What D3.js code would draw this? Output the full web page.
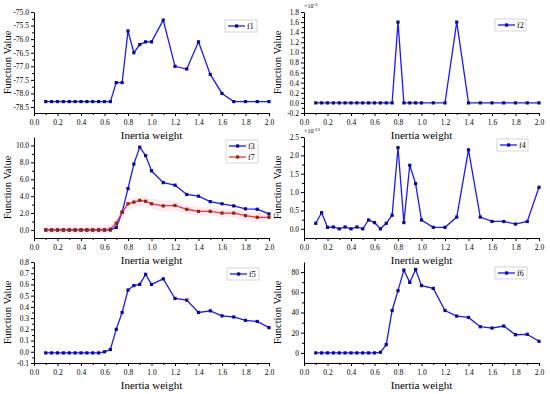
<!DOCTYPE html>
<html>
<head>
<meta charset="utf-8">
<script src="https://cdn.jsdelivr.net/npm/d3@7"></script>
<style>
  body { margin: 0; background: #fff; }
  svg { display: block; font-family: "Liberation Serif", "Times New Roman", serif; }
  .tick text { font-size: 7.5px; fill: #000; font-family: "Liberation Serif", "Times New Roman", serif; }
  .domain, .tick line { stroke: #000; }
</style>
</head>
<body>
<svg width="550" height="394"></svg>
<script>
// inertia weight values (x)
const X = [0.1, 0.15, 0.2, 0.25, 0.3, 0.35, 0.4, 0.45, 0.5, 0.55, 0.6, 0.65, 0.7, 0.75, 0.8, 0.85, 0.9, 0.95,
    1.0, 1.1, 1.2, 1.3, 1.4, 1.5, 1.6, 1.7, 1.8, 1.9, 2.0];

const F1 = [-78.3, -78.3, -78.3, -78.3, -78.3, -78.3, -78.3, -78.3, -78.3, -78.3, -78.3, -78.3,
    -77.6, -77.6, -75.7, -76.5, -76.2, -76.1, -76.1, -75.3, -77.0, -77.1, -76.1, -77.3, -78.0, -78.3, -78.3, -78.3, -78.3];
const F2 = [0, 0, 0, 0, 0, 0, 0, 0, 0, 0, 0, 0, 0, 0, 1.6, 0, 0, 0, 0, 0, 0, 1.6, 0, 0, 0, 0, 0, 0, 0];
const F3 = [0, 0, 0, 0, 0, 0, 0, 0, 0, 0, 0, 0, 0.3, 2.1, 4.9, 7.8, 9.8, 8.8,
    7.0, 5.6, 5.3, 4.2, 4.0, 3.35, 3.1, 2.85, 2.5, 2.45, 1.9];
const F7 = [0, 0, 0, 0, 0, 0, 0, 0, 0, 0, 0, 0.1, 0.8, 2.1, 3.1, 3.3, 3.5, 3.4,
    3.1, 2.85, 2.9, 2.45, 2.2, 2.2, 2.0, 2.0, 1.7, 1.5, 1.5];
const F7_HI = [0.6, 0.6, 0.6, 0.6, 0.6, 0.6, 0.6, 0.6, 0.6, 0.6, 0.6, 0.7, 1.4, 2.6, 3.7, 3.8, 3.9, 3.9,
    3.7, 3.5, 3.5, 2.9, 2.7, 2.7, 2.5, 2.5, 2.2, 2.0, 2.0];
const F7_LO = [-0.5, -0.5, -0.5, -0.5, -0.5, -0.5, -0.5, -0.5, -0.5, -0.5, -0.5, -0.4, 0.2, 1.2, 2.3, 2.6, 2.8, 2.8,
    2.5, 2.2, 2.3, 1.9, 1.7, 1.7, 1.5, 1.5, 1.1, 0.9, 0.9];
const F4 = [0.15, 0.44, 0.04, 0.05, 0.0, 0.05, 0.0, 0.05, 0.0, 0.24, 0.17, 0.0, 0.15, 0.37, 2.21, 0.17, 1.73, 1.23,
    0.24, 0.04, 0.04, 0.32, 2.15, 0.32, 0.2, 0.2, 0.13, 0.2, 1.13];
const F5 = [-0.01, -0.01, -0.01, -0.01, -0.01, -0.01, -0.01, -0.01, -0.01, -0.01, 0.0, 0.02, 0.2, 0.35, 0.55, 0.59, 0.6, 0.69,
    0.6, 0.65, 0.475, 0.46, 0.35, 0.365, 0.32, 0.31, 0.28, 0.27, 0.215];
const F6 = [0, 0, 0, 0, 0, 0, 0, 0, 0, 0, 0, 0.6, 8.2, 42, 61.6, 82, 69.8, 82.6,
    66.6, 63.9, 42, 36.4, 35.1, 25.9, 24.6, 26.6, 18, 18.4, 11.5];

const X_TICKS = [0, 0.2, 0.4, 0.6, 0.8, 1.0, 1.2, 1.4, 1.6, 1.8, 2.0];
const Y1_TICKS = [-78.5, -78.0, -77.5, -77.0, -76.5, -76.0, -75.5, -75.0];
const Y2_TICKS = [-0.2, 0, 0.2, 0.4, 0.6, 0.8, 1.0, 1.2, 1.4, 1.6, 1.8];
const Y3_TICKS = [0, 2, 4, 6, 8, 10];
const Y4_TICKS = [0, 0.5, 1.0, 1.5, 2.0, 2.5];
const Y5_TICKS = [-0.1, 0, 0.1, 0.2, 0.3, 0.4, 0.5, 0.6, 0.7, 0.8];
const Y6_TICKS = [0, 20, 40, 60, 80];

const BLUE = '#1a1aff';
const BLUE_DOT = '#0a0a8c';
const RED = '#e8383a';
const RED_DOT = '#8a2a08';

const svg = d3.select('svg');
const fix1 = d => d.toFixed(1);
const fix0 = d => d.toFixed(0);

const panels = [
    { left: 34, right: 269, top: 12, bottom: 113, domain: [-78.72, -75.0], ticks: Y1_TICKS, fmt: fix1,
      series: [{ name: 'f1', values: F1, line: BLUE, dot: BLUE_DOT }], legend: [225, 20, 32] },
    { left: 304, right: 539, top: 12, bottom: 113, domain: [-0.2, 1.8], ticks: Y2_TICKS, fmt: fix1, exp: '-3',
      series: [{ name: 'f2', values: F2, line: BLUE, dot: BLUE_DOT }], legend: [495, 19, 31] },
    { left: 34, right: 269, top: 137, bottom: 238, domain: [-0.95, 11.0], ticks: Y3_TICKS, fmt: fix1,
      band: { lo: F7_LO, hi: F7_HI },
      series: [{ name: 'f3', values: F3, line: BLUE, dot: BLUE_DOT }, { name: 'f7', values: F7, line: RED, dot: RED_DOT }],
      legend: [226, 140, 32] },
    { left: 304, right: 539, top: 137, bottom: 238, domain: [-0.25, 2.5], ticks: Y4_TICKS, fmt: fix1, exp: '-13',
      series: [{ name: 'f4', values: F4, line: BLUE, dot: BLUE_DOT }], legend: [497, 139, 31] },
    { left: 34, right: 269, top: 262, bottom: 363, domain: [-0.1, 0.8], ticks: Y5_TICKS, fmt: fix1,
      series: [{ name: 'f5', values: F5, line: BLUE, dot: BLUE_DOT }], legend: [227, 268, 32] },
    { left: 304, right: 539, top: 262, bottom: 363, domain: [-10, 90], ticks: Y6_TICKS, fmt: fix0,
      series: [{ name: 'f6', values: F6, line: BLUE, dot: BLUE_DOT }], legend: [495, 267, 32] }
];

panels.forEach(p => {
    const x = d3.scaleLinear().domain([0, 2]).range([p.left, p.right]);
    const y = d3.scaleLinear().domain(p.domain).range([p.bottom, p.top]);
    const g = svg.append('g');

    if (p.band) {
        const area = d3.area()
            .x((d, i) => x(X[i]))
            .y0((d, i) => y(p.band.lo[i]))
            .y1((d, i) => y(p.band.hi[i]));
        g.append('path').datum(X).attr('d', area).attr('fill', '#fdeaf2');
    }

    // minor ticks
    const xMinor = d3.axisBottom(x).tickValues(d3.range(0.1, 2, 0.2)).tickSize(2).tickFormat('');
    g.append('g').attr('transform', `translate(0,${p.bottom})`).call(xMinor).select('.domain').remove();
    const yStep = p.ticks[1] - p.ticks[0];
    const yMinor = d3.axisLeft(y).tickValues(p.ticks.slice(0, -1).map(t => t + yStep / 2)).tickSize(2).tickFormat('');
    g.append('g').attr('transform', `translate(${p.left},0)`).call(yMinor).select('.domain').remove();

    g.append('g')
        .attr('transform', `translate(0,${p.bottom})`)
        .call(d3.axisBottom(x).tickValues(X_TICKS).tickSize(3).tickSizeOuter(0).tickPadding(2).tickFormat(fix1))
        .attr('font-family', null)
        .call(a => a.selectAll('.tick text').attr('dy', '0.9em'));
    g.append('g')
        .attr('transform', `translate(${p.left},0)`)
        .call(d3.axisLeft(y).tickValues(p.ticks).tickSize(3).tickSizeOuter(0).tickPadding(2).tickFormat(p.fmt))
        .attr('font-family', null);

    p.series.forEach(s => {
        const line = d3.line().x((d, i) => x(X[i])).y(d => y(d));
        g.append('path').datum(s.values)
            .attr('d', line)
            .attr('fill', 'none')
            .attr('stroke', s.line)
            .attr('stroke-width', 1.3);
        g.selectAll(null).data(s.values).enter()
            .append('rect')
            .attr('x', (d, i) => x(X[i]) - 1.6)
            .attr('y', d => y(d) - 1.6)
            .attr('width', 3.2)
            .attr('height', 3.2)
            .attr('fill', s.dot);
    });

    if (p.exp) {
        const t = g.append('text')
            .attr('x', p.left)
            .attr('y', p.top - 4)
            .style('font-size', '6px');
        t.append('tspan').text('×10');
        t.append('tspan').attr('dy', -2.5).style('font-size', '5px').text(p.exp);
    }

    // legend
    const [lx, ly, lw] = p.legend;
    const lh = 11 * p.series.length + 1;
    const lg = g.append('g');
    lg.append('rect').attr('x', lx).attr('y', ly).attr('width', lw).attr('height', lh)
        .attr('fill', '#fff').attr('stroke', '#bbb').attr('stroke-width', 0.6);
    p.series.forEach((s, i) => {
        const cy = ly + 6 + i * 11;
        lg.append('line').attr('x1', lx + 3).attr('x2', lx + 20).attr('y1', cy).attr('y2', cy)
            .attr('stroke', s.line).attr('stroke-width', 1.3);
        lg.append('rect').attr('x', lx + 10).attr('y', cy - 1.6).attr('width', 3.2).attr('height', 3.2).attr('fill', s.dot);
        lg.append('text').attr('x', lx + 22).attr('y', cy + 2.8).style('font-size', '8px').text(s.name);
    });

    g.append('text')
        .attr('x', (p.left + p.right) / 2)
        .attr('y', p.bottom + 26)
        .attr('text-anchor', 'middle')
        .style('font-size', '11px')
        .text('Inertia weight');
    g.append('text')
        .attr('transform', `translate(${p.left - 27},${(p.top + p.bottom) / 2}) rotate(-90)`)
        .attr('text-anchor', 'middle')
        .attr('dy', '0.35em')
        .style('font-size', '10.5px')
        .text('Function Value');
});
</script>
</body>
</html>
